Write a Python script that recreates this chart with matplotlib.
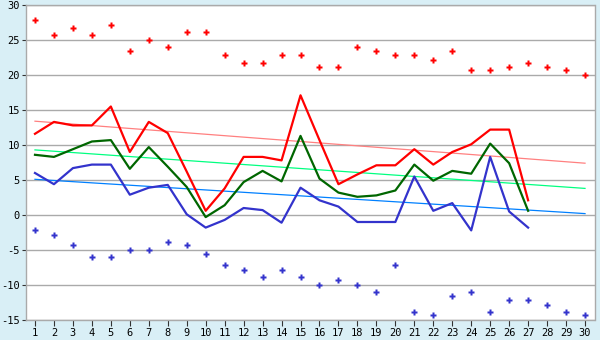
import matplotlib
matplotlib.use('Agg')
import matplotlib.pyplot as plt
import numpy as np

plt.rcParams['axes.unicode_minus'] = False

days = list(range(1, 31))

# upper markers (red) and lower markers (blue)
high_pts = [27.8, 25.7, 26.7, 25.7, 27.2, 23.4, 25.0, 24.0, 26.1, 26.1,
            22.8, 21.7, 21.7, 22.8, 22.8, 21.1, 21.1, 24.0, 23.4, 22.8,
            22.8, 22.2, 23.4, 20.7, 20.7, 21.1, 21.7, 21.1, 20.7, 20.0]
low_pts = [-2.2, -2.8, -4.3, -6.0, -6.0, -5.0, -5.0, -3.9, -4.3, -5.6,
           -7.2, -7.8, -8.9, -7.8, -8.9, -10.0, -9.3, -10.0, -11.0, -7.2,
           -13.9, -14.3, -11.6, -11.0, -13.9, -12.2, -12.2, -12.8, -13.9, -14.3]

# lines (27 days)
red_line = [11.6, 13.3, 12.8, 12.8, 15.5, 9.0, 13.3, 11.7, 6.2, 0.6,
            3.8, 8.3, 8.3, 7.8, 17.1, 10.7, 4.4, 5.8, 7.1, 7.1,
            9.4, 7.2, 9.0, 10.1, 12.2, 12.2, 2.1]
green_line = [8.6, 8.3, 9.4, 10.5, 10.7, 6.6, 9.7, 6.9, 4.0, -0.3,
              1.4, 4.7, 6.3, 4.8, 11.3, 5.2, 3.2, 2.6, 2.8, 3.5,
              7.2, 4.9, 6.3, 5.9, 10.2, 7.4, 0.6]
blue_line = [6.0, 4.4, 6.7, 7.2, 7.2, 2.9, 3.9, 4.3, 0.1, -1.8,
             -0.7, 1.0, 0.7, -1.1, 3.9, 2.1, 1.2, -1.0, -1.0, -1.0,
             5.5, 0.6, 1.7, -2.2, 8.3, 0.5, -1.8]

# trend lines, values at day 1 and day 30
trend_x = [1, 30]
red_trend = [13.4, 7.4]
green_trend = [9.3, 3.8]
blue_trend = [5.1, 0.2]

bg = '#d9eff6'
fig = plt.figure(figsize=(6, 3.4), dpi=100, facecolor=bg)
ax = fig.add_axes([25.5/600, 1-320/340, 569/600, 315/340])
ax.set_facecolor('white')

ax.plot(trend_x, red_trend, color='#ff8080', lw=0.9)
ax.plot(trend_x, green_trend, color='#00ff80', lw=0.9)
ax.plot(trend_x, blue_trend, color='#0080ff', lw=0.9)

n = len(red_line)
ax.plot(days[:n], red_line, color='#ff0000', lw=1.6)
ax.plot(days[:n], green_line, color='#006600', lw=1.6)
ax.plot(days[:n], blue_line, color='#3333cc', lw=1.6)

ax.plot(days, high_pts, ls='none', marker='P', ms=4.5, color='#ff0000', mec='none')
ax.plot(days, low_pts, ls='none', marker='P', ms=4.5, color='#3333cc', mec='none')

ax.set_xlim(0.5, 30.5)
ax.set_ylim(-15, 30)
ax.set_yticks(range(-15, 31, 5))
ax.set_xticks(days)
ax.yaxis.grid(True, color='#aaaaaa', lw=1)
ax.set_axisbelow(True)
for s in ax.spines.values():
    s.set_color('#aaaaaa')
    s.set_linewidth(1)
ax.tick_params(axis='both', colors='#333333', labelcolor='black', labelsize=7.5,
               length=4, width=0.8, pad=2)
ax.tick_params(axis='y', length=3, pad=1)
for lab in ax.get_xticklabels() + ax.get_yticklabels():
    lab.set_family('DejaVu Sans Mono')

fig.savefig('out.png', dpi=100, facecolor=bg)
